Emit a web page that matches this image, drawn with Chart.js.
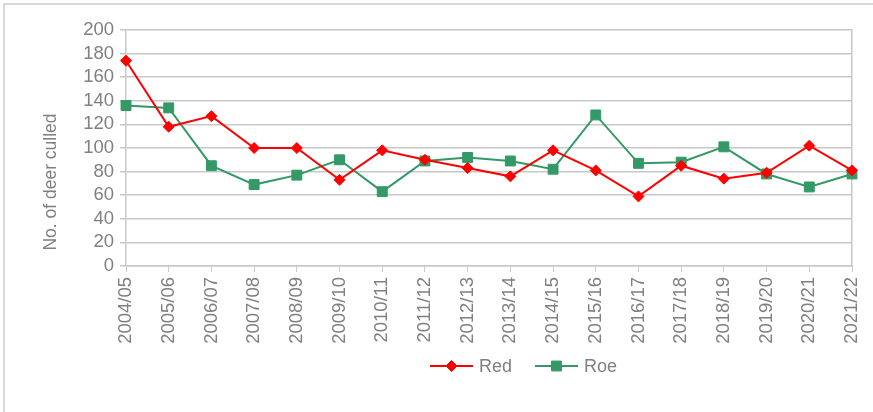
<!DOCTYPE html>
<html>
<head>
<meta charset="utf-8">
<script src="https://cdn.jsdelivr.net/npm/chart.js@4"></script>
<style>
  html, body { margin: 0; padding: 0; background: #ffffff; }
  #wrap { position: relative; width: 873px; height: 412px; overflow: hidden; }
  #frame { position: absolute; left: 3px; top: 3px; width: 900px; height: 500px; border-top: 2px solid #d9d9d9; border-left: 2px solid #d9d9d9; box-sizing: border-box; }
  canvas { position: absolute; left: 0; top: 0; }
</style>
</head>
<body>
<div id="wrap">
  <div id="frame"></div>
  <canvas id="c" width="873" height="412"></canvas>
</div>
<script>
const seasons = ["2004/05","2005/06","2006/07","2007/08","2008/09","2009/10","2010/11","2011/12","2012/13","2013/14","2014/15","2015/16","2016/17","2017/18","2018/19","2019/20","2020/21","2021/22"];
const redDeer = [174, 118, 127, 100, 100, 73, 98, 90, 83, 76, 98, 81, 59, 85, 74, 79, 102, 81];
const roeDeer = [136, 134, 85, 69, 77, 90, 63, 89, 92, 89, 82, 128, 87, 88, 101, 78, 67, 78];
const yTitle = "No. of deer culled";
const yMin = 0, yMax = 200, yStep = 20;

const FONT = '"Liberation Sans", Arial, sans-serif';
const GREY = '#808080';
const GRID = '#c8c8c8';

const overlay = {
  id: 'overlay',
  afterDraw(chart) {
    const ctx = chart.ctx;
    ctx.save();
    // y-axis title
    ctx.translate(51, 182);
    ctx.rotate(-Math.PI / 2);
    ctx.fillStyle = GREY;
    ctx.font = '17.5px ' + FONT;
    ctx.textAlign = 'center';
    ctx.textBaseline = 'middle';
    ctx.fillText(yTitle, 0, 0);
    ctx.restore();

    // legend
    const items = chart.data.datasets.map(d => ({label: d.label, color: d.borderColor, style: d.pointStyle, r: d.pointRadius}));
    const starts = [430, 535];
    const y = 366;
    items.forEach((it, i) => {
      const x0 = starts[i];
      ctx.save();
      ctx.strokeStyle = it.color;
      ctx.lineWidth = 2;
      ctx.beginPath();
      ctx.moveTo(x0, y);
      ctx.lineTo(x0 + 43, y);
      ctx.stroke();
      ctx.fillStyle = it.color;
      ctx.strokeStyle = it.color;
      ctx.lineWidth = 1;
      Chart.helpers.drawPoint(ctx, {pointStyle: it.style, radius: it.r, borderWidth: 1, rotation: 0}, x0 + 21.5, y);
      ctx.fillStyle = GREY;
      ctx.font = '18px ' + FONT;
      ctx.textAlign = 'left';
      ctx.textBaseline = 'middle';
      ctx.fillText(it.label, x0 + 49, y + 1);
      ctx.restore();
    });
  }
};

new Chart(document.getElementById('c'), {
  type: 'line',
  data: {
    labels: seasons,
    datasets: [
      {
        label: 'Red',
        data: redDeer,
        borderColor: '#ff0000',
        backgroundColor: '#ff0000',
        borderWidth: 2,
        pointStyle: 'rectRot',
        pointRadius: 5.5,
        pointHoverRadius: 5.5,
        pointBorderWidth: 1,
        tension: 0
      },
      {
        label: 'Roe',
        data: roeDeer,
        borderColor: '#339966',
        backgroundColor: '#339966',
        borderWidth: 2,
        pointStyle: 'rect',
        pointRadius: 7,
        pointHoverRadius: 7,
        pointBorderWidth: 1,
        tension: 0
      }
    ]
  },
  options: {
    responsive: false,
    animation: false,
    events: [],
    layout: { padding: { top: 30, right: 21, bottom: 0, left: 0 } },
    plugins: {
      legend: { display: false },
      tooltip: { enabled: false },
      title: { display: false }
    },
    scales: {
      x: {
        offset: false,
        grid: { display: true, drawOnChartArea: false, drawTicks: true, tickLength: 6, color: GRID },
        border: { display: true, color: GRID, width: 1.5 },
        ticks: {
          color: GREY, font: { family: FONT, size: 18.5 },
          autoSkip: false, minRotation: 90, maxRotation: 90, padding: 5
        },
        afterFit(scale) { scale.height = 146; scale.paddingRight = 0; scale.paddingLeft = 0; }
      },
      y: {
        min: yMin, max: yMax,
        grid: { color: GRID, lineWidth: 1.5, tickLength: 6, drawTicks: true },
        border: { display: true, color: GRID, width: 1.5 },
        ticks: { stepSize: yStep, autoSkip: false, color: GREY, font: { family: FONT, size: 18.5 }, padding: 6 },
        afterFit(scale) { scale.width = 126; }
      },
      y2: {
        position: 'right',
        min: yMin, max: yMax,
        grid: { drawOnChartArea: false, drawTicks: false },
        border: { display: true, color: GRID, width: 1.5 },
        ticks: { display: false },
        afterFit(scale) { scale.width = 0; }
      }
    }
  },
  plugins: [overlay]
});
</script>
</body>
</html>
